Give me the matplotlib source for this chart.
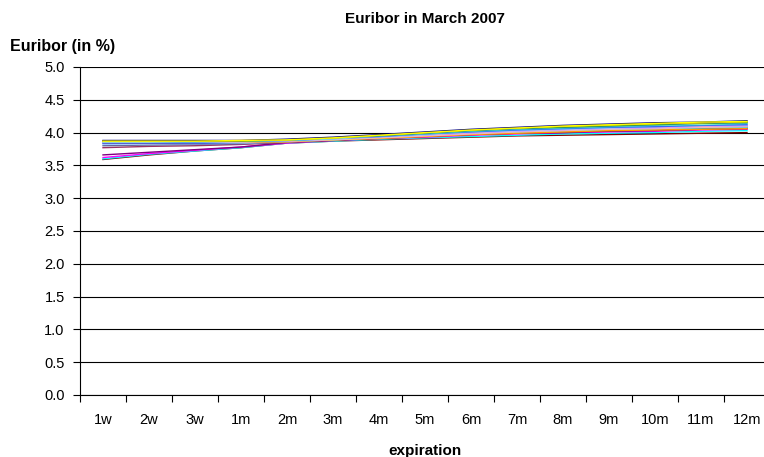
import matplotlib
matplotlib.use('Agg')
import matplotlib.pyplot as plt

plt.rcParams['font.family'] = ['Liberation Sans', 'DejaVu Sans']

# expirations on the x axis
maturities = ['1w', '2w', '3w', '1m', '2m', '3m', '4m', '5m', '6m', '7m', '8m', '9m', '10m', '11m', '12m']

# one rate curve per trading day of March 2007 (in %)
mar01 = [3.59, 3.66, 3.72, 3.77, 3.84, 3.87, 3.89, 3.91, 3.93, 3.95, 3.96, 3.97, 3.98, 3.99, 4.00]
mar02 = [3.60, 3.67, 3.72, 3.77, 3.84, 3.87, 3.90, 3.92, 3.94, 3.96, 3.98, 3.99, 4.00, 4.02, 4.03]
mar05 = [3.62, 3.68, 3.73, 3.78, 3.84, 3.88, 3.91, 3.93, 3.96, 3.98, 4.00, 4.01, 4.02, 4.04, 4.05]
mar06 = [3.66, 3.70, 3.74, 3.78, 3.85, 3.88, 3.91, 3.94, 3.97, 3.99, 4.00, 4.02, 4.03, 4.05, 4.06]
mar07 = [3.77, 3.79, 3.80, 3.82, 3.85, 3.88, 3.92, 3.95, 3.97, 3.99, 4.01, 4.03, 4.04, 4.05, 4.07]
mar08 = [3.80, 3.81, 3.82, 3.83, 3.86, 3.89, 3.92, 3.95, 3.98, 4.00, 4.02, 4.04, 4.05, 4.07, 4.08]
mar09 = [3.82, 3.83, 3.83, 3.84, 3.86, 3.89, 3.93, 3.96, 3.99, 4.01, 4.03, 4.05, 4.06, 4.08, 4.09]
mar12 = [3.84, 3.84, 3.84, 3.85, 3.87, 3.90, 3.93, 3.97, 4.00, 4.02, 4.04, 4.06, 4.07, 4.09, 4.10]
mar13 = [3.85, 3.85, 3.85, 3.85, 3.87, 3.89, 3.92, 3.96, 3.99, 4.01, 4.03, 4.04, 4.06, 4.07, 4.08]
mar14 = [3.85, 3.85, 3.85, 3.85, 3.86, 3.89, 3.91, 3.94, 3.97, 3.99, 4.01, 4.03, 4.04, 4.05, 4.06]
mar15 = [3.85, 3.85, 3.85, 3.86, 3.87, 3.89, 3.92, 3.95, 3.98, 4.01, 4.03, 4.05, 4.06, 4.08, 4.09]
mar16 = [3.86, 3.86, 3.86, 3.86, 3.87, 3.90, 3.93, 3.96, 3.99, 4.02, 4.04, 4.06, 4.07, 4.09, 4.10]
mar19 = [3.86, 3.86, 3.86, 3.86, 3.88, 3.90, 3.94, 3.97, 4.00, 4.03, 4.05, 4.07, 4.08, 4.10, 4.11]
mar20 = [3.86, 3.86, 3.86, 3.86, 3.88, 3.90, 3.94, 3.97, 4.01, 4.03, 4.05, 4.07, 4.09, 4.11, 4.12]
mar21 = [3.86, 3.86, 3.86, 3.87, 3.88, 3.91, 3.94, 3.98, 4.01, 4.04, 4.06, 4.08, 4.09, 4.11, 4.12]
mar22 = [3.86, 3.86, 3.86, 3.87, 3.88, 3.91, 3.95, 3.98, 4.02, 4.05, 4.07, 4.09, 4.11, 4.12, 4.14]
mar23 = [3.86, 3.86, 3.87, 3.87, 3.89, 3.91, 3.95, 3.99, 4.03, 4.06, 4.08, 4.10, 4.12, 4.13, 4.15]
mar26 = [3.87, 3.87, 3.87, 3.87, 3.89, 3.92, 3.95, 3.99, 4.03, 4.06, 4.08, 4.10, 4.12, 4.14, 4.15]
mar27 = [3.87, 3.87, 3.87, 3.87, 3.89, 3.92, 3.96, 4.00, 4.04, 4.07, 4.09, 4.11, 4.13, 4.15, 4.16]
mar28 = [3.87, 3.87, 3.87, 3.88, 3.89, 3.92, 3.96, 4.00, 4.04, 4.07, 4.10, 4.12, 4.14, 4.15, 4.17]
mar29 = [3.88, 3.88, 3.88, 3.88, 3.90, 3.93, 3.97, 4.01, 4.05, 4.08, 4.11, 4.13, 4.15, 4.16, 4.18]
mar30 = [3.87, 3.87, 3.87, 3.88, 3.89, 3.92, 3.96, 4.00, 4.04, 4.07, 4.10, 4.12, 4.14, 4.16, 4.17]

days = [mar01, mar02, mar05, mar06, mar07, mar08, mar09, mar12, mar13, mar14, mar15,
        mar16, mar19, mar20, mar21, mar22, mar23, mar26, mar27, mar28, mar29, mar30]
colors = ['#800000', '#00FFFF', '#FF00FF', '#800080', '#993366', '#666699', '#99CCFF',
          '#0000FF', '#00CCFF', '#FF9900', '#FFCC99', '#CC99FF', '#FF99CC', '#99CCFF',
          '#3366FF', '#33CCCC', '#CCFFCC', '#008080', '#99CC00', '#FFCC00', '#000080', '#FFFF00']

fig = plt.figure(figsize=(7.64, 4.57), dpi=100)
ax = fig.add_axes([80 / 764, 1 - 395 / 457, 690 / 764, 328 / 457])

for rates, c in zip(days, colors):
    ax.plot(range(len(maturities)), rates, color=c, lw=1.0, zorder=3)

ax.set_xlim(-0.5, len(maturities) - 0.5)
ax.set_ylim(0, 5)
ax.set_yticks([i * 0.5 for i in range(11)])
ax.set_yticklabels(['%.1f' % (i * 0.5) for i in range(11)])
ax.yaxis.grid(True, color='black', lw=0.8)
ax.set_axisbelow(True)

# tick marks between categories, labels centred on them
ax.set_xticks([i - 0.5 for i in range(len(maturities) + 1)])
ax.set_xticklabels([])
ax.set_xticks(range(len(maturities)), minor=True)
ax.set_xticklabels(maturities, minor=True)
ax.tick_params(axis='x', which='major', direction='out', length=5, width=0.8)
ax.tick_params(axis='x', which='minor', length=0, pad=13, labelsize=10.5)
ax.tick_params(axis='y', direction='out', length=5, width=0.8, labelsize=10.5, pad=6)

for s in ['top', 'right']:
    ax.spines[s].set_visible(False)
ax.spines['left'].set_linewidth(0.8)
ax.spines['bottom'].set_linewidth(0.8)

ax.set_title('Euribor in March 2007', fontsize=11, fontweight='bold', pad=32)
ax.set_xlabel('expiration', fontsize=11, fontweight='bold', labelpad=12)
fig.text(10 / 764, 1 - 46 / 457, 'Euribor (in %)', fontsize=11.5, fontweight='bold', va='center')

fig.savefig('out.png', dpi=100)
